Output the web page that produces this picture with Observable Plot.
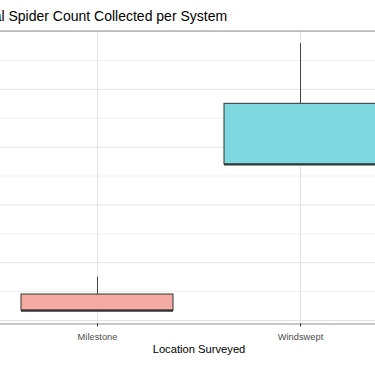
<!DOCTYPE html>
<html>
<head>
<meta charset="utf-8">
<script src="https://cdn.jsdelivr.net/npm/d3@7"></script>
<script src="https://cdn.jsdelivr.net/npm/@observablehq/plot@0.6"></script>
<style>
  html, body { margin: 0; padding: 0; background: #fff; }
  #wrap { position: relative; width: 375px; height: 366px; overflow: hidden; font-family: "Liberation Sans", Arial, sans-serif; }
  #title { position: absolute; left: -25px; top: 7px; font-size: 14px; color: #000; white-space: nowrap; line-height: 18px; }
  #chart { position: absolute; left: -25px; top: 0; width: 447px; height: 366px; }
  #chart svg { max-width: none !important; width: 447px; height: 366px; display: block; }
</style>
</head>
<body>
<div id="wrap">
  <div id="chart"></div>
  <div id="title">Total Spider Count Collected per System</div>
</div>
<script>
// Data (box-plot summaries)
const categories = ["Milestone", "Windswept"];
const lowerWhisker = [17, 270];
const q1 = [17, 270];
const median = [17, 270];
const q3 = [45, 375];
const upperWhisker = [75, 479];
const yMajorTicks = [0, 100, 200, 300, 400, 500];
const yMinorTicks = [50, 150, 250, 350, 450];
const xTitle = "Location Surveyed";

const rows = categories.map((c, i) => ({
  cat: c, lo: lowerWhisker[i], q1: q1[i], med: median[i], q3: q3[i], hi: upperWhisker[i]
}));

const chart = Plot.plot({
  width: 447,
  height: 366,
  marginTop: 30.5,
  marginBottom: 42.5,
  marginLeft: 0,
  marginRight: 0,
  style: { fontFamily: "Liberation Sans, Arial, sans-serif", background: "transparent", maxWidth: "none" },
  x: { type: "band", domain: categories, paddingInner: 0.25, paddingOuter: 0.225, axis: null },
  y: { domain: [-6, 501], axis: null },
  color: { domain: categories, range: ["#F3A299", "#6FD4DD"] },
  marks: [
    Plot.gridY(yMinorTicks, { stroke: "#ececec", strokeOpacity: 1, strokeWidth: 0.8 }),
    Plot.gridY(yMajorTicks, { stroke: "#e2e2e2", strokeOpacity: 1, strokeWidth: 1 }),
    Plot.gridX(categories, { stroke: "#e2e2e2", strokeOpacity: 1, strokeWidth: 1 }),
    Plot.ruleX(rows, { x: "cat", y1: "q3", y2: "hi", stroke: "#444", strokeWidth: 1 }),
    Plot.ruleX(rows, { x: "cat", y1: "lo", y2: "q1", stroke: "#444", strokeWidth: 1 }),
    Plot.barY(rows, { x: "cat", y1: "q1", y2: "q3", fill: "cat", fillOpacity: 0.9, stroke: "#333", strokeWidth: 1 }),
    Plot.tickY(rows, { x: "cat", y: "med", stroke: "#333", strokeWidth: 2.2 }),
    Plot.frame({ stroke: "#aaaaaa", strokeWidth: 1.3 }),
    Plot.axisX({ tickSize: 3, tickPadding: 5.9, fontSize: 9.3, stroke: "#333", fill: "#4d4d4d", label: null }),
    Plot.text([xTitle], { frameAnchor: "bottom", lineAnchor: "bottom", dy: 28.5, fontSize: 11.2, fill: "#000" })
  ]
});
document.getElementById("chart").appendChild(chart);
</script>
</body>
</html>
